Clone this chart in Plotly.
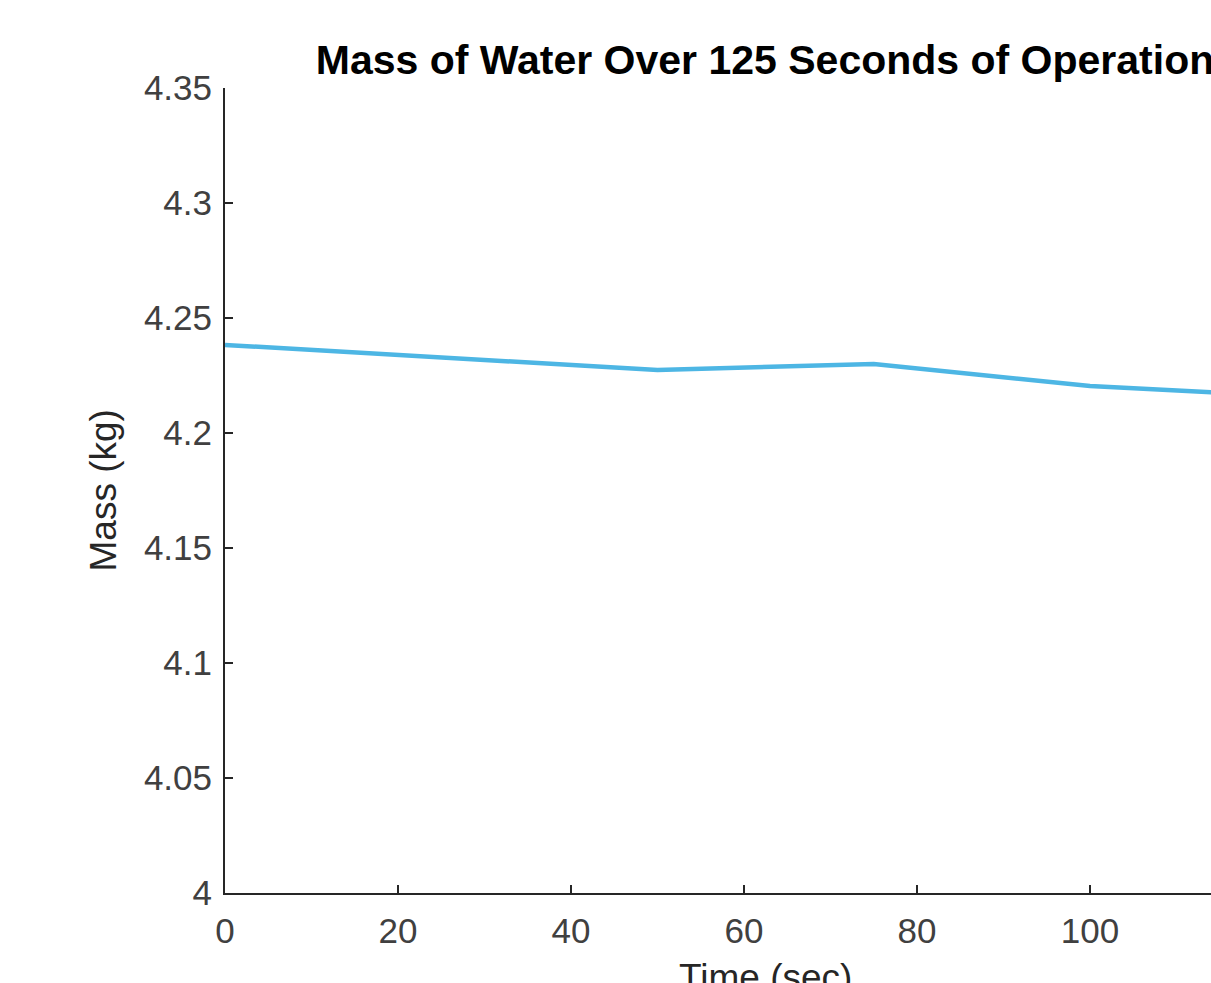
import plotly.graph_objects as go

time_sec = [0, 25, 50, 75, 100, 125]
mass_kg = [4.2383, 4.2330, 4.2274, 4.2300, 4.2204, 4.2157]
x_ticks = [0, 20, 40, 60, 80, 100, 120]
y_ticks = [4, 4.05, 4.1, 4.15, 4.2, 4.25, 4.3, 4.35]
y_tick_text = ["4", "4.05", "4.1", "4.15", "4.2", "4.25", "4.3", "4.35"]

W, H = 1211, 983
L, R, T, B = 225, 0, 88, 90
plot_w = W - L - R
plot_h = H - T - B
px_per_sec = 8.65

fig = go.Figure()
fig.add_trace(go.Scatter(x=time_sec, y=mass_kg, mode="lines",
                         line=dict(color="#4DB6E4", width=4.5),
                         showlegend=False, hoverinfo="skip"))

tick_font = dict(family="Liberation Sans, Arial, sans-serif", size=35, color="#404040")
label_font = dict(family="Liberation Sans, Arial, sans-serif", size=37, color="#262626")

fig.update_layout(
    width=W, height=H,
    margin=dict(l=L, r=R, t=T, b=B, pad=0),
    paper_bgcolor="white", plot_bgcolor="white",
    title=dict(text="<b>Mass of Water Over 125 Seconds of Operation</b>",
               x=765 / W, xref="container", xanchor="center",
               y=1 - 60 / H, yref="container", yanchor="middle",
               font=dict(family="Liberation Sans, Arial, sans-serif", size=41, color="#000000")),
    xaxis=dict(range=[0, plot_w / px_per_sec], tickvals=x_ticks, ticks="inside", ticklen=8,
               tickwidth=1.5, tickcolor="#262626", showline=True, linecolor="#262626",
               linewidth=2, showgrid=False, zeroline=False, tickfont=tick_font,
               ticklabelstandoff=6),
    yaxis=dict(range=[4, 4.35], tickvals=y_ticks, ticktext=y_tick_text, ticks="inside",
               ticklen=8, tickwidth=1.5, tickcolor="#262626", showline=True,
               linecolor="#262626", linewidth=2, showgrid=False, zeroline=False,
               tickfont=tick_font, ticklabelstandoff=4),
    annotations=[
        dict(text="Time (sec)", xref="paper", yref="paper",
             x=(765 - L) / plot_w, y=-(977 - (T + plot_h)) / plot_h,
             xanchor="center", yanchor="middle", showarrow=False,
             font=label_font),
        dict(text="Mass (kg)", xref="paper", yref="paper",
             x=(103 - L) / plot_w, y=0.5, textangle=-90,
             xanchor="center", yanchor="middle", showarrow=False,
             font=label_font),
    ],
)

fig.write_html(
    "out.html",
    config={"displayModeBar": False},
    post_script="document.body.style.margin='0';document.body.style.overflow='hidden';",
)
